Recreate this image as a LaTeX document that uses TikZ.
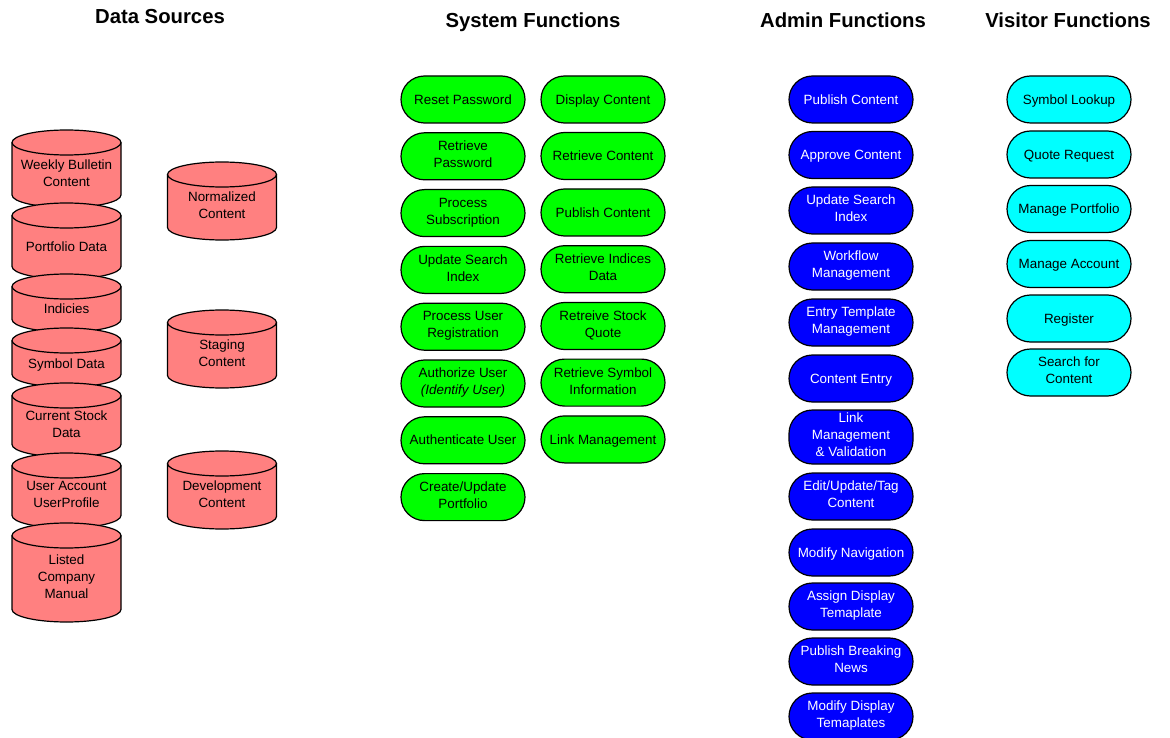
\documentclass[tikz,border=0pt]{standalone}
\usepackage{fontspec}
\setmainfont{Liberation Sans}
\definecolor{dbred}{HTML}{FF8080}
\definecolor{sysgreen}{HTML}{00FF00}
\definecolor{admblue}{HTML}{0000FF}
\definecolor{viscyan}{HTML}{00FFFF}
\newcommand\boxfont{\fontsize{13.4}{17}\selectfont}
\newcommand\headfont{\fontsize{20.3}{24}\selectfont\bfseries}
% fixed line box so that capitals sit in the middle of a node
\newcommand\lnstrut{\rule[-3.9pt]{0pt}{17pt}}
\newcommand\cylR{54.5}
\newcommand\cylr{12.5}
% database cylinder: name, centre x, top y, bottom y, text
\newcommand\dbcyl[5]{%
  \pgfmathsetmacro\dbcY{(#3+#4)/2}%
  \pgfmathsetmacro\dbcH{#4-#3-2*\cylr}%
  \node[cylbody, minimum height=\dbcH pt] (#1) at (#2,\dbcY) {};
  \draw[cylline, fill=dbred] (#1.north west) -- (#1.south west)
    arc[start angle=180, end angle=360, x radius=\cylR pt, y radius=\cylr pt]
    -- (#1.north east)
    arc[start angle=0, end angle=180, x radius=\cylR pt, y radius=\cylr pt] -- cycle;
  \draw[cylline] (#1.north west)
    arc[start angle=180, end angle=360, x radius=\cylR pt, y radius=\cylr pt];
  \node[cyltext] (#1-t) at ([yshift=-6pt]#1.center) {#5};
}
\tikzset{
  cylbody/.style={rectangle, inner sep=0pt, outer sep=0pt, minimum width=109pt},
  cylline/.style={line width=1.2pt, line join=round},
  cyltext/.style={align=center, inner sep=0pt, font=\boxfont,
    execute at begin node=\lnstrut, execute at end node=\lnstrut},
  heading/.style={anchor=base, inner sep=0pt, font=\headfont},
  fn/.style={rectangle, rounded corners=23.5pt, minimum width=124pt, minimum height=47pt,
    draw, line width=1.2pt, align=center, inner sep=0pt, font=\boxfont,
    execute at begin node=\lnstrut, execute at end node=\lnstrut},
  sysfn/.style={fn, fill=sysgreen},
  admfn/.style={fn, fill=admblue, text=white},
  visfn/.style={fn, fill=viscyan},
}
\begin{document}
\begin{tikzpicture}[x=1pt, y=-1pt]
\useasboundingbox (0,0) rectangle (1170,738);

% column headings
\node[heading] (h-data) at (160,23.5) {Data Sources};
\node[heading] (h-sys) at (533,27.5) {System Functions};
\node[heading] (h-adm) at (843,27.5) {Admin Functions};
\node[heading] (h-vis) at (1068,27.5) {Visitor Functions};

% data sources: stacked column
\dbcyl{d1}{66.5}{130}{207.5}{Weekly Bulletin\\Content}
\dbcyl{d2}{66.5}{203}{279}{Portfolio Data}
\dbcyl{d3}{66.5}{274}{332}{Indicies}
\dbcyl{d4}{66.5}{328}{387}{Symbol Data}
\dbcyl{d5}{66.5}{383}{457}{Current Stock\\Data}
\dbcyl{d6}{66.5}{453}{528}{User Account\\UserProfile}
\dbcyl{d7}{66.5}{523}{622}{Listed\\Company\\Manual}
% content stores
\dbcyl{c1}{222}{162}{240}{Normalized\\Content}
\dbcyl{c2}{222}{310}{388}{Staging\\Content}
\dbcyl{c3}{222}{451}{529}{Development\\Content}

% system functions
\node[sysfn] (s1) at (463,99.5) {Reset Password};
\node[sysfn] (s2) at (463,156.3) {Retrieve\\Password};
\node[sysfn] (s3) at (463,213.1) {Process\\Subscription};
\node[sysfn] (s4) at (463,269.9) {Update Search\\Index};
\node[sysfn] (s5) at (463,326.7) {Process User\\Registration};
\node[sysfn] (s6) at (463,383.5) {Authorize User\\\textit{(Identify User)}};
\node[sysfn] (s7) at (463,440.3) {Authenticate User};
\node[sysfn] (s8) at (463,497.1) {Create/Update\\Portfolio};

\node[sysfn] (r1) at (603,99.5) {Display Content};
\node[sysfn] (r2) at (603,156) {Retrieve Content};
\node[sysfn] (r3) at (603,212.5) {Publish Content};
\node[sysfn] (r4) at (603,269.2) {Retrieve Indices\\Data};
\node[sysfn] (r5) at (603,326) {Retreive Stock\\Quote};
\node[sysfn] (r6) at (603,382.6) {Retrieve Symbol\\Information};
\node[sysfn] (r7) at (603,439.4) {Link Management};

% admin functions
\node[admfn] (a1) at (851,99.5) {Publish Content};
\node[admfn] (a2) at (851,155) {Approve Content};
\node[admfn] (a3) at (851,210.5) {Update Search\\Index};
\node[admfn] (a4) at (851,266.5) {Workflow\\Management};
\node[admfn] (a5) at (851,322.5) {Entry Template\\Management};
\node[admfn] (a6) at (851,378.5) {Content Entry};
\node[admfn, minimum height=54pt] (a7) at (851,437) {Link\\Management\\\& Validation};
\node[admfn] (a8) at (851,496.5) {Edit/Update/Tag\\Content};
\node[admfn] (a9) at (851,552.5) {Modify Navigation};
\node[admfn] (a10) at (851,606.5) {Assign Display\\Temaplate};
\node[admfn] (a11) at (851,661.5) {Publish Breaking\\News};
\node[admfn] (a12) at (851,716.5) {Modify Display\\Temaplates};

% visitor functions
\node[visfn] (v1) at (1069,99.5) {Symbol Lookup};
\node[visfn] (v2) at (1069,154.5) {Quote Request};
\node[visfn] (v3) at (1069,209) {Manage Portfolio};
\node[visfn] (v4) at (1069,264) {Manage Account};
\node[visfn] (v5) at (1069,318.5) {Register};
\node[visfn] (v6) at (1069,372.5) {Search for\\Content};
\end{tikzpicture}
\end{document}
